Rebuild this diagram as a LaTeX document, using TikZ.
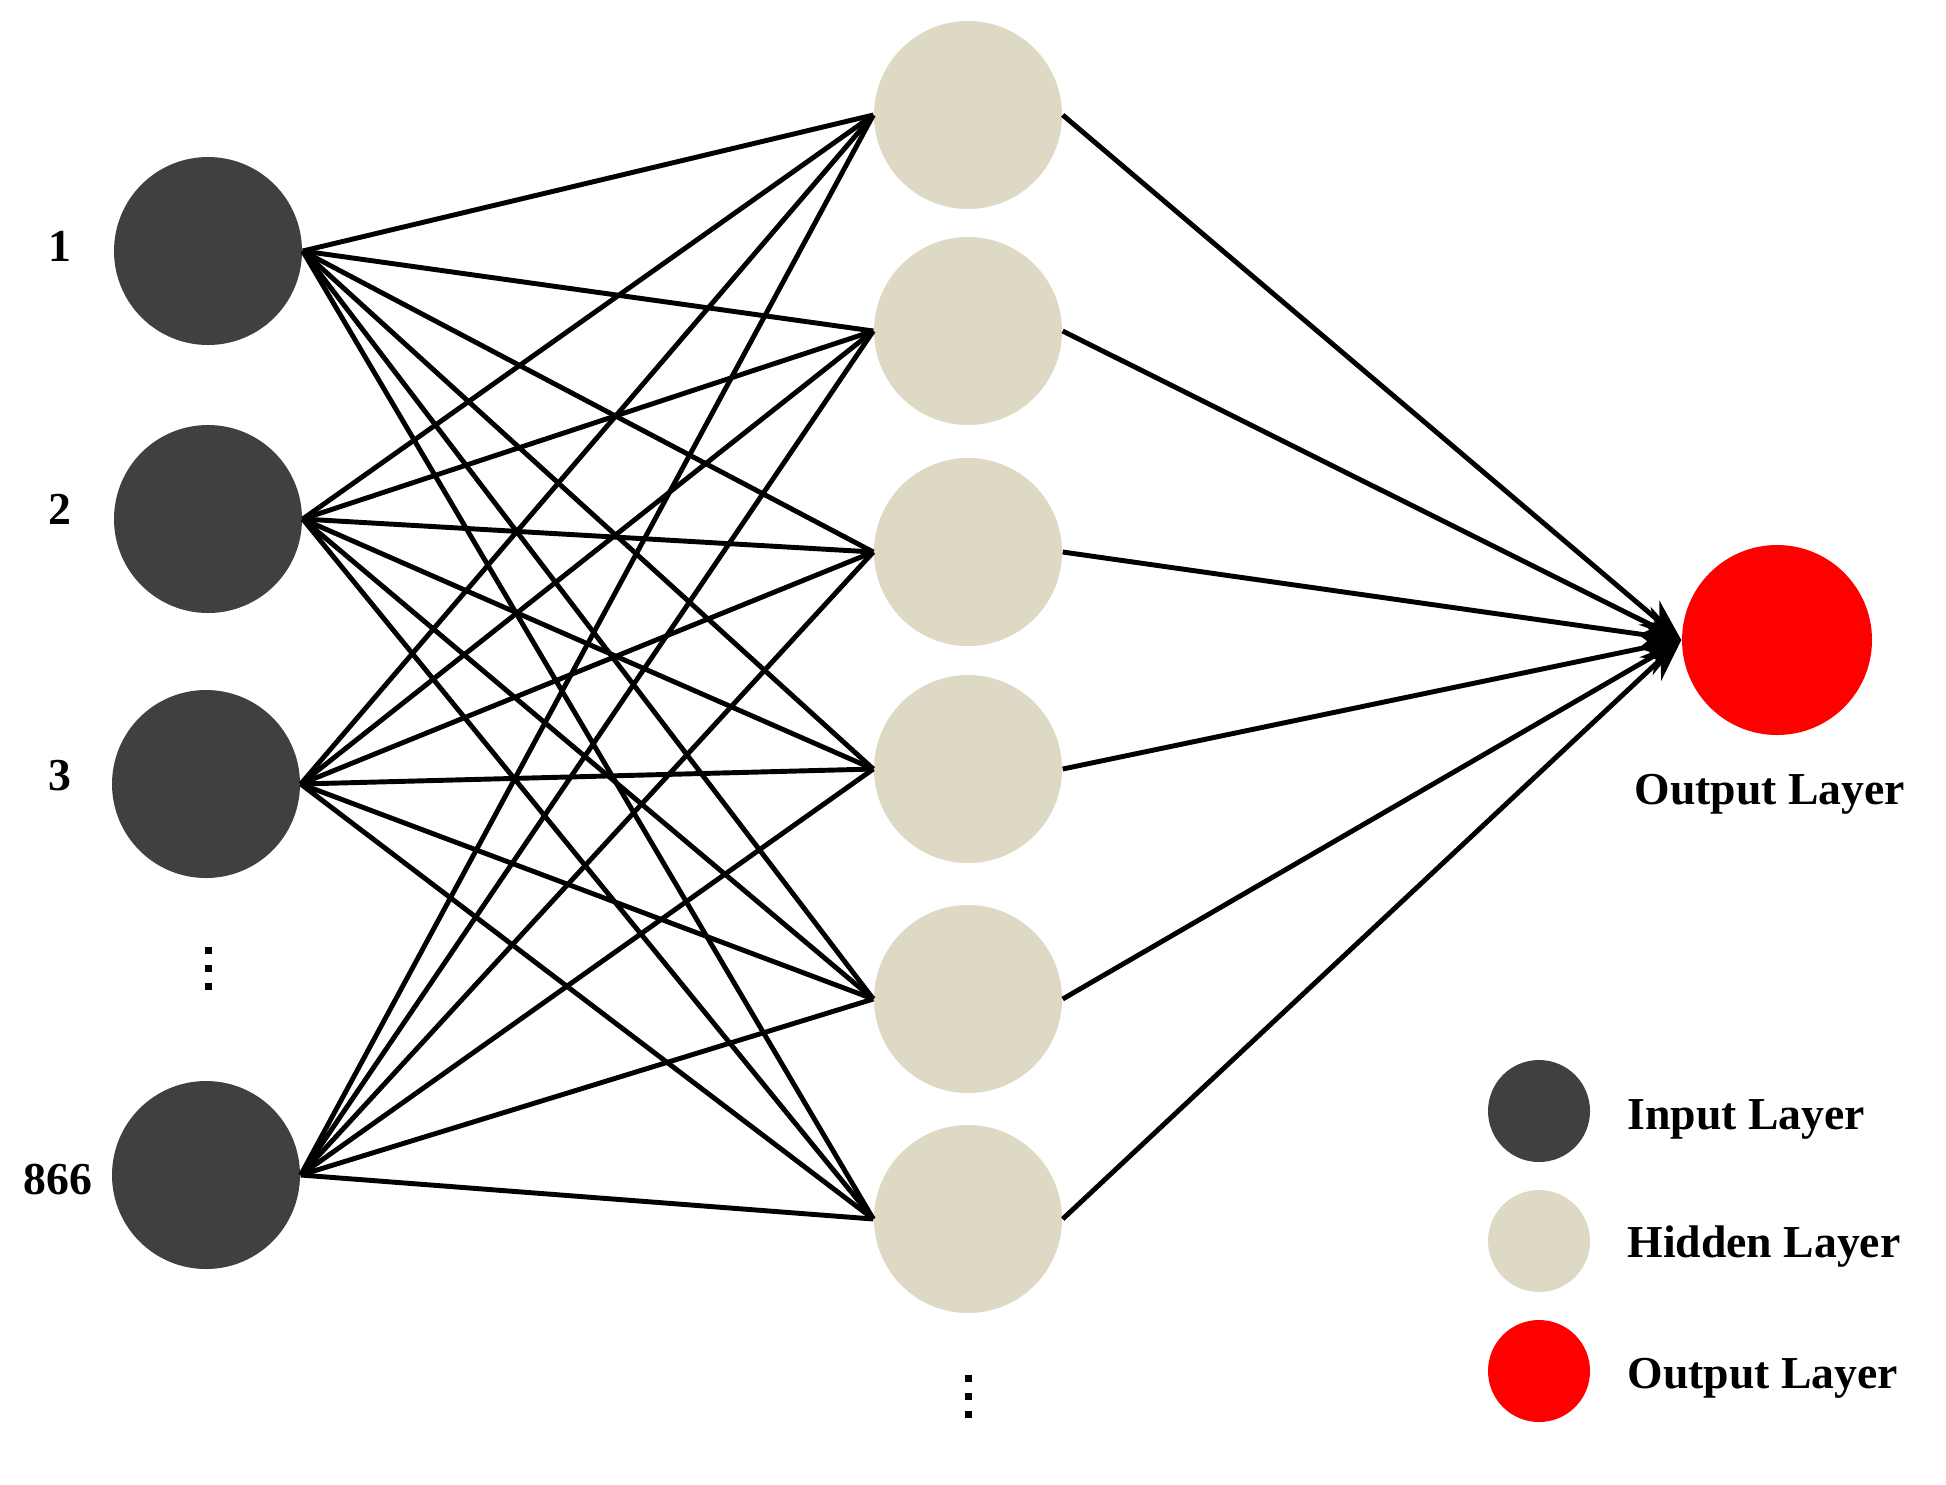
\documentclass[tikz,border=0pt]{standalone}
\usepackage{fontspec}
\setmainfont{Liberation Serif}
\usetikzlibrary{arrows.meta}
\begin{document}
\begin{tikzpicture}[x=0.01cm,y=-0.01cm,
  neuron/.style={circle,minimum size=188*0.01cm,inner sep=0pt},
  inp/.style={neuron,fill={rgb,255:red,64;green,64;blue,64}},
  hid/.style={neuron,fill={rgb,255:red,221;green,217;blue,196}},
  outn/.style={neuron,fill=red,minimum size=190*0.01cm},
  leg/.style={circle,minimum size=102*0.01cm,inner sep=0pt},
  lab/.style={font=\bfseries\fontsize{13pt}{15pt}\selectfont},
  conn/.style={line width=1.4pt,black},
  dot/.style={fill=black,minimum size=7*0.01cm,inner sep=0pt,rectangle}]
\useasboundingbox (0,0) rectangle (1946,1484);
\node[inp] (i1) at (208,251) {};
\node[inp] (i2) at (208,519) {};
\node[inp] (i3) at (206,784) {};
\node[inp] (i4) at (206,1175) {};
\node[hid] (h1) at (968,115) {};
\node[hid] (h2) at (968,331) {};
\node[hid] (h3) at (968,552) {};
\node[hid] (h4) at (968,769) {};
\node[hid] (h5) at (968,999) {};
\node[hid] (h6) at (968,1219) {};
\node[outn] (o) at (1777,640) {};
\node[lab] (l1) at (60,246) {1};
\node[lab] (l2) at (60,509) {2};
\node[lab] (l3) at (60,776) {3};
\node[lab] (l4) at (58,1179) {866};
\node[lab] (ol) at (1770,794) {Output Layer};
\foreach \y [count=\k] in {950,968,986}{\node[dot] (da\k) at (208,\y) {};}
\foreach \y [count=\k] in {1378,1396,1414}{\node[dot] (db\k) at (968,\y) {};}
\foreach \i in {1,...,4}{\foreach \h in {1,...,6}{\draw[conn] (i\i.east) -- (h\h.west);}}
\foreach \h in {1,...,6}{\draw[conn,-{Stealth[length=12pt,width=9pt]}] (h\h.east) -- (o.west);}
\node[leg,fill={rgb,255:red,64;green,64;blue,64}] (g1) at (1539,1111) {};
\node[leg,fill={rgb,255:red,221;green,217;blue,196}] (g2) at (1539,1241) {};
\node[leg,fill=red] (g3) at (1539,1371) {};
\node[lab,anchor=west] (t1) at (1615,1119) {Input Layer};
\node[lab,anchor=west] (t2) at (1615,1247) {Hidden Layer};
\node[lab,anchor=west] (t3) at (1615,1378) {Output Layer};
\end{tikzpicture}
\end{document}
